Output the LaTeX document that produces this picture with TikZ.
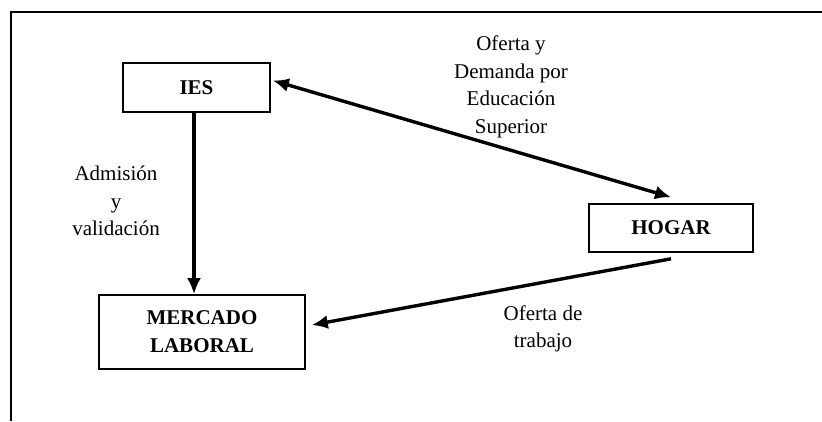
\documentclass[tikz,border=0pt]{standalone}
\usepackage{fontspec}
\setmainfont{Liberation Serif}
\usetikzlibrary{arrows.meta}

\begin{document}
\begin{tikzpicture}[x=1pt,y=-1pt,
  caja/.style={draw,line width=1.6pt,align=center,inner sep=0pt,
    font=\fontsize{21}{28}\selectfont\bfseries},
  etiqueta/.style={align=center,font=\fontsize{21}{27.5}\selectfont},
  punta/.tip={Latex[length=16pt,width=14pt]},
  flecha/.style={line width=3.4pt,-punta}]
\useasboundingbox (0,0) rectangle (822,421);
\draw[line width=2pt] (822,12) -- (11,12) -- (11,421);
\node[caja,minimum width=147pt,minimum height=49pt] (ies) at (196.5,87.5) {IES};
\node[caja,minimum width=164pt,minimum height=48pt] (hogar) at (671,228) {HOGAR};
\node[caja,minimum width=206pt,minimum height=74pt] (mercado) at (202,332) {MERCADO\\LABORAL};
\draw[flecha,punta-punta] ([shift={(2pt,7pt)}]ies.east) -- ([yshift=6pt]hogar.north);
\draw[flecha] ([xshift=-2.5pt]ies.south) -- ([xshift=-2.5pt]ies.south |- mercado.north);
\draw[flecha] ([yshift=-6pt]hogar.south) -- ([shift={(6pt,7pt)}]mercado.east);
\node[etiqueta] (oferta) at (511,87) {Oferta y\\Demanda por\\Educación\\Superior};
\node[etiqueta] (admision) at (116,201) {Admisión\\y\\validación};
\node[etiqueta] (trabajo) at (543,329) {Oferta de\\trabajo};
\end{tikzpicture}
\end{document}
